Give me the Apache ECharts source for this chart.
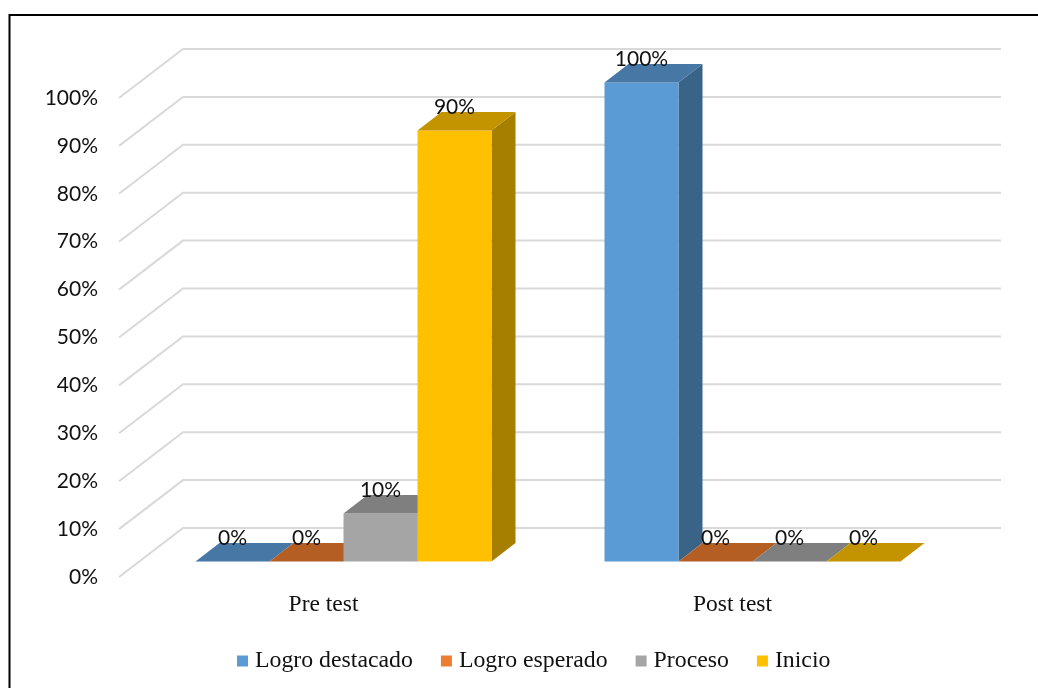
<!DOCTYPE html>
<html>
<head>
<meta charset="utf-8">
<style>html,body{margin:0;padding:0;background:#fff}#chart{width:1038px;height:688px}</style>
<script src="https://cdn.jsdelivr.net/npm/echarts@6/dist/echarts.min.js"></script>
</head>
<body>
<div id="chart"></div>
<script>
// Achievement levels before and after the test, in percent
const categories = ['Pre test', 'Post test'];
const logroDestacado = [0, 100];
const logroEsperado = [0, 0];
const proceso = [10, 0];
const inicio = [90, 0];
const yTicks = [0, 10, 20, 30, 40, 50, 60, 70, 80, 90, 100];

const seriesNames = ['Logro destacado', 'Logro esperado', 'Proceso', 'Inicio'];
const seriesValues = [logroDestacado, logroEsperado, proceso, inicio];
const frontColors = ['#5B9BD5', '#ED7D31', '#A5A5A5', '#FFC000'];
const topColors = ['#4777A4', '#B55E24', '#7F7F7F', '#C49300'];
const sideColors = ['#3A6487', '#8E4A1C', '#646464', '#A67E00'];

// Oblique projection: full floor depth and where the bars stand within it
const wallDx = 64, wallDy = 49;
const barOffsetDx = 20, barOffsetDy = 15.5;
const barDepthDx = 24, barDepthDy = 18.5;
const barShare = 74 / 409;

function wallRenderer(params, api) {
  const sys = params.coordSys;
  const y = api.coord([0, api.value(1)])[1];
  return {
    type: 'polyline',
    silent: true,
    shape: { points: [[sys.x, y], [sys.x + wallDx, y - wallDy], [sys.x + sys.width + wallDx, y - wallDy]] },
    style: { fill: null, stroke: '#D9D9D9', lineWidth: 2 }
  };
}

function barRenderer(seriesIndex) {
  return function (params, api) {
    const value = api.value(1);
    const bandWidth = api.size([1, 0])[0];
    const w = bandWidth * barShare;
    const top = api.coord([api.value(0), value]);
    const base = api.coord([api.value(0), 0]);
    const x0 = top[0] + barOffsetDx + (seriesIndex - 2) * w;
    const x1 = x0 + w;
    const yTop = top[1] - barOffsetDy;
    const yBase = base[1] - barOffsetDy;
    const dx = barDepthDx, dy = barDepthDy;
    return {
      type: 'group',
      children: [
        { type: 'polygon', shape: { points: [[x1, yTop], [x1 + dx, yTop - dy], [x1 + dx, yBase - dy], [x1, yBase]] },
          style: { fill: sideColors[seriesIndex] } },
        { type: 'rect', shape: { x: x0, y: yTop, width: w, height: yBase - yTop },
          style: { fill: frontColors[seriesIndex] } },
        { type: 'polygon', shape: { points: [[x0, yTop], [x0 + dx, yTop - dy], [x1 + dx, yTop - dy], [x1, yTop]] },
          style: { fill: topColors[seriesIndex] } },
        { type: 'text', z2: 50, style: {
            x: (x0 + x1) / 2, y: yTop - 23, text: value + '%', align: 'center', verticalAlign: 'middle',
            fill: '#111', font: '21px Lato' } }
      ]
    };
  };
}

const chart = echarts.init(document.getElementById('chart'), null, { renderer: 'canvas' });
chart.setOption({
  animation: false,
  backgroundColor: '#fff',
  grid: { left: 119, top: 98, width: 818, height: 479, containLabel: false },
  legend: {
    data: seriesNames,
    left: 237,
    top: 649,
    padding: 0,
    itemWidth: 11,
    itemHeight: 11,
    itemGap: 28,
    icon: 'rect',
    textStyle: { fontFamily: 'Liberation Serif', fontSize: 23.8, color: '#111', padding: [0, 0, 0, 2] },
    selectedMode: false
  },
  xAxis: {
    type: 'category',
    data: categories,
    axisLine: { show: false },
    axisTick: { show: false },
    splitLine: { show: false },
    axisLabel: { margin: 16, fontFamily: 'Liberation Serif', fontSize: 23.5, color: '#111' }
  },
  yAxis: {
    type: 'value',
    min: 0,
    max: 100,
    interval: 10,
    axisLine: { show: false },
    axisTick: { show: false },
    splitLine: { show: false },
    axisLabel: { margin: 21, fontFamily: 'Lato', fontSize: 21, color: '#111', formatter: '{value}%', padding: [2, 0, 0, 0] }
  },
  series: [
    { type: 'custom', name: 'wall', silent: true, z: 1, renderItem: wallRenderer,
      data: yTicks.map(t => [0, t]) }
  ].concat(seriesNames.map((name, i) => ({
    type: 'custom',
    name: name,
    z: 2 + i,
    itemStyle: { color: frontColors[i] },
    renderItem: barRenderer(i),
    data: seriesValues[i].map((v, c) => [c, v])
  }))),
  graphic: [
    { type: 'polyline', silent: true, z: 100,
      shape: { points: [[9.5, 688], [9.5, 15], [1038, 15]] },
      style: { fill: null, stroke: '#000', lineWidth: 2 } }
  ]
});
</script>
</body>
</html>
